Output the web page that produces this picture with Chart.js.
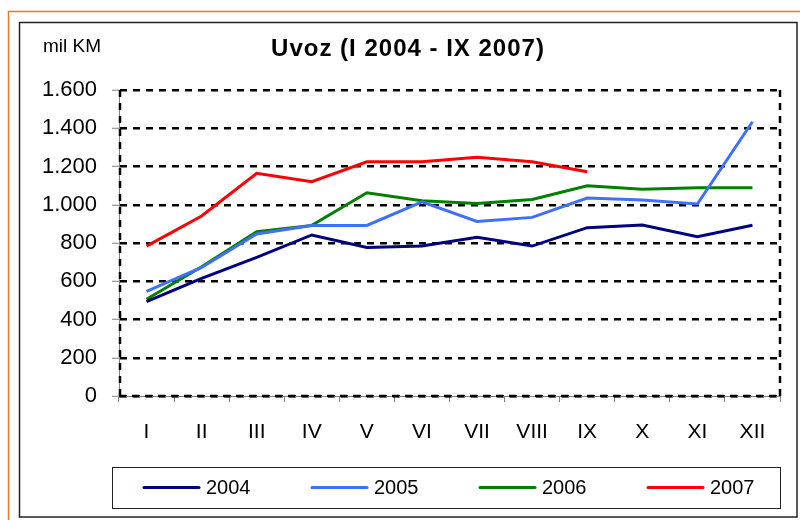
<!DOCTYPE html>
<html><head><meta charset="utf-8">
<script src="https://cdn.jsdelivr.net/npm/chart.js@4.4.1/dist/chart.umd.min.js"></script>
<style>html,body{margin:0;padding:0;background:#fff}#wrap{width:800px;height:520px;position:relative}canvas{display:block}</style>
</head><body><div id="wrap"><canvas id="c" width="800" height="520"></canvas></div>
<script>
const months = ['I','II','III','IV','V','VI','VII','VIII','IX','X','XI','XII'];
const yTickValues = [0,200,400,600,800,1000,1200,1400,1600];
const s2004 = [493,615,725,842,777,784,830,784,880,894,833,893];
const s2005 = [547,672,847,892,892,1015,913,934,1035,1025,1004,1434];
const s2006 = [506,676,859,892,1063,1021,1007,1028,1099,1081,1089,1089];
const s2007 = [784,941,1164,1121,1225,1225,1248,1225,1173];
const seriesNames = ['2004','2005','2006','2007'];
const titleText = 'Uvoz (I 2004 - IX 2007)';
const unitText = 'mil KM';

const FONT = '"Liberation Sans", Arial, sans-serif';
const fmt = v => String(v).replace(/\B(?=(\d{3})+(?!\d))/g, '.');

const framePlugin = {
  id: 'frames',
  beforeDraw(chart) {
    const ctx = chart.ctx;
    ctx.save();
    ctx.fillStyle = '#fff';
    ctx.fillRect(0, 0, chart.width, chart.height);
    ctx.strokeStyle = '#F07820';
    ctx.lineWidth = 1.5;
    ctx.strokeRect(8.5, 11.5, 820, 540);
    ctx.strokeStyle = '#222';
    ctx.lineWidth = 1.5;
    ctx.strokeRect(19.5, 22.5, 777.5, 494.5);
    ctx.fillStyle = '#000';
    ctx.textBaseline = 'middle';
    ctx.textAlign = 'center';
    ctx.font = 'bold 24px ' + FONT;
    ctx.letterSpacing = '1px';
    ctx.fillText(titleText, 408, 49);
    ctx.letterSpacing = '0px';
    ctx.textAlign = 'left';
    ctx.font = '19px ' + FONT;
    ctx.fillText(unitText, 43, 47);
    ctx.restore();
  },
  beforeDatasetsDraw(chart) {
    const {ctx, chartArea: a} = chart;
    ctx.save();
    ctx.strokeStyle = '#000';
    ctx.lineWidth = 2.5;
    ctx.setLineDash([7, 6]);
    ctx.beginPath();
    ctx.moveTo(a.left + 1, a.bottom); ctx.lineTo(a.left + 1, a.top);
    ctx.moveTo(a.right, a.top); ctx.lineTo(a.right, a.bottom);
    ctx.moveTo(a.left, a.bottom); ctx.lineTo(a.right, a.bottom);
    ctx.stroke();
    ctx.restore();
  },
  afterDraw(chart) {
    // legend drawn from the chart's dataset labels and colours
    const ctx = chart.ctx;
    const dsets = chart.data.datasets;
    const boxL = 112.5, boxT = 467.5, boxR = 780.5, boxB = 508.5;
    const cy = 487.5, x0 = 143, step = 168, lineLen = 57, gap = 6;
    ctx.save();
    ctx.strokeStyle = '#222';
    ctx.lineWidth = 1;
    ctx.strokeRect(boxL, boxT, boxR - boxL, boxB - boxT);
    ctx.font = '20px ' + FONT;
    ctx.textBaseline = 'middle';
    ctx.textAlign = 'left';
    dsets.forEach((ds, i) => {
      const x = x0 + i * step;
      ctx.strokeStyle = ds.borderColor;
      ctx.lineWidth = 3;
      ctx.lineCap = 'round';
      ctx.beginPath();
      ctx.moveTo(x + 1, cy); ctx.lineTo(x + lineLen - 1, cy);
      ctx.stroke();
      ctx.fillStyle = '#000';
      ctx.fillText(ds.label, x + lineLen + gap, cy + 1);
    });
    ctx.restore();
  }
};

const colors = ['#000080', '#3F6FFF', '#008000', '#FF0000'];
const dataSets = [s2004, s2005, s2006, s2007];

new Chart(document.getElementById('c'), {
  type: 'line',
  data: {
    labels: months,
    datasets: dataSets.map((d, i) => ({
      label: seriesNames[i],
      data: d,
      borderColor: colors[i],
      backgroundColor: colors[i],
      borderWidth: 3,
      pointRadius: 0,
      tension: 0,
      fill: false
    }))
  },
  options: {
    responsive: false,
    animation: false,
    devicePixelRatio: 1,
    layout: { padding: { left: 20, right: 20, top: 90, bottom: 76 } },
    plugins: {
      title: { display: false },
      tooltip: { enabled: false },
      legend: { display: false }
    },
    scales: {
      x: {
        offset: true,
        grid: {
          offset: true,
          drawOnChartArea: false,
          drawTicks: true,
          tickLength: 6,
          tickColor: '#808080',
          tickWidth: 1,
          tickBorderDash: []
        },
        border: { display: true, color: '#808080', width: 1 },
        ticks: {
          color: '#000',
          font: { family: FONT, size: 21 },
          padding: 18,
          maxRotation: 0,
          autoSkip: false
        },
        afterFit(scale) { scale.height = 48; }
      },
      y: {
        min: 0,
        max: 1600,
        afterBuildTicks(scale) { scale.ticks = yTickValues.map(v => ({ value: v })); },
        grid: {
          color: '#000',
          lineWidth: 2.5,
          drawTicks: true,
          tickLength: 7,
          tickColor: '#808080',
          tickWidth: 1,
          tickBorderDash: []
        },
        border: { display: true, color: '#808080', width: 1, dash: [7, 6] },
        ticks: {
          color: '#000',
          font: { family: FONT, size: 22 },
          padding: 15,
          callback: v => fmt(v)
        },
        afterFit(scale) { scale.width = 99; }
      }
    }
  },
  plugins: [framePlugin]
});
</script>
</body></html>
